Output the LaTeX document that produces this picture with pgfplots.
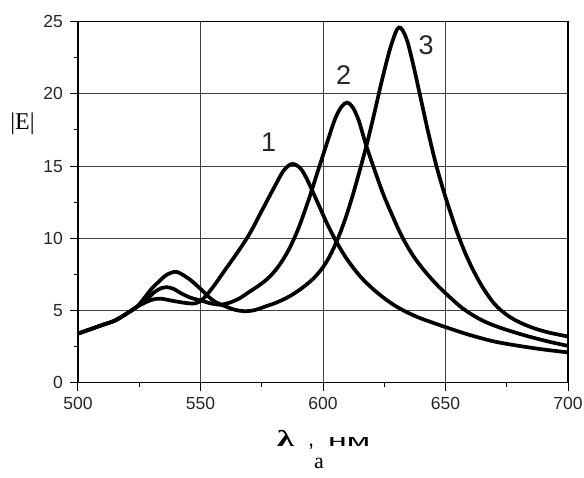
\documentclass[border=0pt]{standalone}
\usepackage{fontspec}
\setmainfont{Liberation Serif}
\newfontfamily\arial{Liberation Sans}
\usepackage{graphicx}
\usepackage{pgfplots}
\pgfplotsset{compat=1.18}
\begin{document}
\begin{tikzpicture}
\path[use as bounding box] (-78pt,-94.3pt) rectangle (506pt,382.7pt);
\begin{axis}[
  at={(0pt,0pt)}, anchor=south west,
  width=490pt, height=361pt, scale only axis,
  xmin=500, xmax=700, ymin=0, ymax=25,
  xtick={500,550,...,700}, ytick={0,5,...,25},
  minor x tick num=1, minor y tick num=1,
  grid=major,
  major grid style={black!75, line width=1pt},
  axis line style={black, line width=1.3pt},
  tick align=outside, tick pos=left,
  major tick length=8pt, minor tick length=4pt,
  every tick/.style={black, line width=1pt},
  /pgf/number format/assume math mode=true,
  ticklabel style={font=\fontsize{17.5}{17.5}\selectfont\arial, inner sep=0pt, text=black!85},
  xticklabel style={yshift=-6pt},
  yticklabel style={xshift=-7pt},
  clip=false,
]
\addplot[black, line width=3.7pt, smooth, tension=0.55] coordinates {
(500,3.4)(505,3.7)(510,4.0)(515,4.3)(520,4.8)(524,5.25)(528,5.6)(531,5.78)(534,5.82)(537,5.72)(541,5.6)(545,5.5)(548,5.5)(551,5.8)(555,6.6)(560,7.8)(565,9.0)(570,10.3)(575,11.9)(580,13.5)(584,14.7)(587.5,15.15)(591,14.8)(594,13.9)(598,12.4)(602,10.9)(606,9.6)(610,8.5)(615,7.4)(620,6.55)(625,5.85)(630,5.27)(635,4.82)(640,4.45)(650,3.85)(660,3.3)(670,2.85)(680,2.55)(690,2.3)(700,2.1)
};
\addplot[black, line width=3.7pt, smooth, tension=0.55] coordinates {
(500,3.4)(505,3.7)(510,4.0)(515,4.3)(520,4.8)(524,5.25)(528,5.75)(531,6.25)(534,6.55)(536,6.62)(539,6.5)(542,6.2)(546,5.88)(550,5.7)(554,5.5)(558,5.4)(562,5.55)(566,5.85)(570,6.3)(574,6.75)(578,7.3)(582,8.1)(586,9.2)(590,10.7)(594,12.6)(598,14.7)(602,16.8)(605,18.3)(607.5,19.1)(609.8,19.4)(612,19.1)(614.5,18.2)(617.5,16.5)(620.5,15.0)(624.5,13.1)(628.5,11.5)(632,10.2)(636,9.0)(640,8.05)(645,7.05)(650,6.2)(657,5.15)(664,4.4)(670,3.95)(677,3.55)(684,3.2)(692,2.85)(700,2.55)
};
\addplot[black, line width=3.7pt, smooth, tension=0.55] coordinates {
(500,3.4)(505,3.7)(510,4.0)(515,4.3)(520,4.8)(524,5.25)(527,5.85)(530,6.5)(533,7.0)(536,7.45)(539.5,7.68)(542,7.55)(546,7.1)(550,6.5)(553,6.0)(556,5.6)(560,5.3)(564,5.05)(568,4.95)(572,5.02)(576,5.25)(581,5.55)(586,5.95)(591,6.5)(596,7.2)(600,8.0)(603,8.85)(606,9.95)(609,11.3)(612,12.9)(615,14.7)(618,16.6)(621,18.7)(624,20.9)(627,22.9)(629.5,24.2)(631,24.6)(632.5,24.4)(634.5,23.6)(637,21.9)(640,19.6)(643,17.3)(646,15.2)(649,13.4)(652,11.8)(655,10.3)(658,9.0)(661,7.9)(665,6.65)(670,5.45)(675,4.7)(680,4.2)(686,3.78)(692,3.48)(700,3.2)
};
\node[font=\fontsize{27}{27}\selectfont\arial, text=black!85] at (axis cs:577.8,16.67) {1};
\node[font=\fontsize{27}{27}\selectfont\arial, text=black!85] at (axis cs:608.4,21.3) {2};
\node[font=\fontsize{27}{27}\selectfont\arial, text=black!85] at (axis cs:642.1,23.4) {3};
\end{axis}
\node[anchor=base, font=\fontsize{24}{24}\selectfont] at (-55.5pt,252.7pt) {|E|};
\node[anchor=base west, inner sep=0pt] at (199pt,-64pt) {\scalebox{1.5}[1]{\fontsize{23}{23}\selectfont\bfseries λ}};
\node[anchor=base west, inner sep=0pt] at (230pt,-64pt) {\fontsize{22}{22}\selectfont\arial ,};
\node[anchor=base west, inner sep=0pt] at (250pt,-64pt) {\scalebox{2}[1]{\fontsize{17}{17}\selectfont\arial нм}};
\node[anchor=base, inner sep=0pt, font=\fontsize{22}{22}\selectfont] at (241pt,-85.3pt) {а};
\end{tikzpicture}
\end{document}
